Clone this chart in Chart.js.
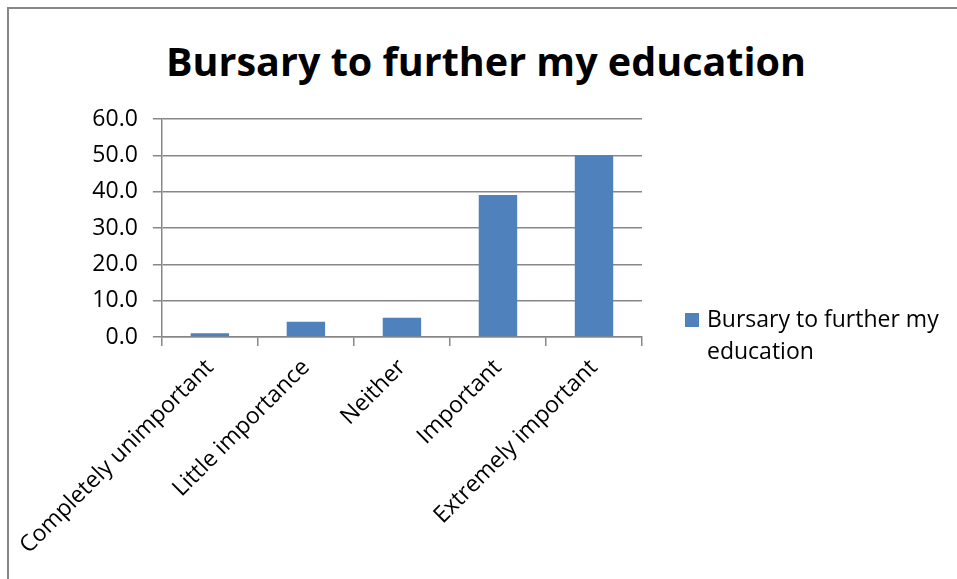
<!DOCTYPE html>
<html>
<head>
<meta charset="utf-8">
<script src="https://cdn.jsdelivr.net/npm/chart.js@4.4.0/dist/chart.umd.min.js"></script>
<style>
    html, body { margin: 0; padding: 0; background: #fff; }
    #wrap { position: relative; width: 957px; height: 579px; overflow: hidden; font-family: "Open Sans", sans-serif; }
    #frame { position: absolute; left: 7px; top: 7px; width: 1000px; height: 1000px;
             border-left: 2px solid #878787; border-top: 2px solid #878787; }
    #chart { position: absolute; left: 0; top: 0; }
    #title { position: absolute; left: 0; top: 41px; width: 972px; margin: 0; text-align: center;
             font-size: 39.5px; font-weight: bold; line-height: 40px; color: #000; }
    #legend { position: absolute; left: 685px; top: 302px; }
    .legend-item { display: flex; align-items: flex-start; }
    .legend-box { width: 14px; height: 14px; margin-top: 11px; margin-right: 8px; flex: none; }
    .legend-text { width: 250px; font-size: 23px; line-height: 32px; color: #000; }
</style>
</head>
<body>
<div id="wrap">
    <div id="frame"></div>
    <h1 id="title"></h1>
    <canvas id="chart" width="957" height="579"></canvas>
    <div id="legend"></div>
</div>
<script>
const chartTitle = 'Bursary to further my education';
const categories = ['Completely unimportant', 'Little importance', 'Neither', 'Important', 'Extremely important'];
const seriesLabel = 'Bursary to further my education';
const seriesValues = [1.0, 4.2, 5.3, 39.1, 50.0];
const yTicks = [0, 10, 20, 30, 40, 50, 60];

const barColor = '#4F81BD';
const axisColor = '#878787';
const tickFont = { family: 'Open Sans', size: 23 };

document.getElementById('title').innerText = chartTitle;

// Légende à droite, construite depuis la série
const legend = document.getElementById('legend');
legend.innerHTML = `
    <div class="legend-item">
        <div class="legend-box" style="background:${barColor}"></div>
        <div class="legend-text">${seriesLabel}</div>
    </div>
`;

const ctx = document.getElementById('chart').getContext('2d');
new Chart(ctx, {
    type: 'bar',
    data: {
        labels: categories,
        datasets: [{
            label: seriesLabel,
            data: seriesValues,
            backgroundColor: barColor,
            barPercentage: 0.4,
            categoryPercentage: 1.0
        }]
    },
    options: {
        responsive: false,
        animation: false,
        layout: { padding: { left: 60, top: 119, right: 315, bottom: 0 } },
        plugins: {
            legend: { display: false },
            title: { display: false },
            tooltip: { enabled: false }
        },
        scales: {
            y: {
                min: yTicks[0],
                max: yTicks[yTicks.length - 1],
                afterBuildTicks: scale => { scale.ticks = yTicks.map(v => ({ value: v })); },
                afterFit: scale => { scale.width = 101; },
                ticks: {
                    color: '#000',
                    padding: 15,
                    font: tickFont,
                    callback: v => Number(v).toFixed(1)
                },
                grid: { color: axisColor, lineWidth: 1.5, tickLength: 9 },
                border: { color: axisColor, width: 1.5 }
            },
            x: {
                afterFit: scale => { scale.height = 242; },
                ticks: {
                    color: '#000',
                    minRotation: 45,
                    maxRotation: 45,
                    padding: 8,
                    font: tickFont
                },
                grid: { drawOnChartArea: false, color: axisColor, lineWidth: 1.5, tickLength: 9 },
                border: { color: axisColor, width: 1.5 }
            }
        }
    }
});
</script>
</body>
</html>
